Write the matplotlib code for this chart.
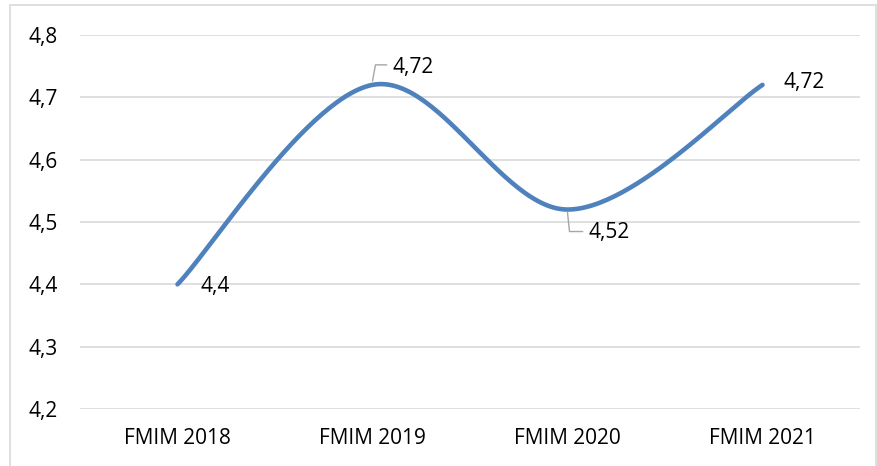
import matplotlib.pyplot as plt
import matplotlib.transforms as mtransforms
from matplotlib.patches import Rectangle
import numpy as np

plt.rcParams['font.family'] = ['Open Sans', 'DejaVu Sans']

categories = ['FMIM 2018', 'FMIM 2019', 'FMIM 2020', 'FMIM 2021']
values = [4.4, 4.72, 4.52, 4.72]
value_labels = ['4,4', '4,72', '4,52', '4,72']
yticks = [4.2, 4.3, 4.4, 4.5, 4.6, 4.7, 4.8]
ytick_labels = ['4,2', '4,3', '4,4', '4,5', '4,6', '4,7', '4,8']

line_color = '#4F81BD'
grid_color = '#D9D9D9'


def smooth(xs, ys, n=60):
    # excel style smoothing (catmull-rom as bezier segments)
    pts = np.column_stack([xs, ys]).astype(float)
    ext = np.vstack([pts[0], pts, pts[-1]])
    out = []
    t = np.linspace(0, 1, n)[:, None]
    for i in range(len(pts) - 1):
        p0, p1, p2, p3 = ext[i], ext[i + 1], ext[i + 2], ext[i + 3]
        c1 = p1 + (p2 - p0) / 6
        c2 = p2 - (p3 - p1) / 6
        seg = ((1 - t) ** 3) * p1 + 3 * ((1 - t) ** 2) * t * c1 \
            + 3 * (1 - t) * t ** 2 * c2 + t ** 3 * p2
        out.append(seg)
    out = np.vstack(out)
    return out[:, 0], out[:, 1]


fig = plt.figure(figsize=(8.78, 4.66), dpi=100)
fig.patches.append(Rectangle((10 / 878, -0.01), 866 / 878, 1 - 5 / 466 + 0.01,
                             transform=fig.transFigure, fill=False,
                             edgecolor=grid_color, linewidth=1.2))
ax = fig.add_axes([80 / 878, 1 - 409 / 466, 780 / 878, 374 / 466])

x = np.arange(len(categories))
sx, sy = smooth(x, values)
ax.plot(sx, sy, color=line_color, linewidth=3.3, solid_capstyle='round', zorder=3)

ax.set_xlim(-0.5, len(categories) - 0.5)
ax.set_ylim(4.2, 4.8)
ax.set_yticks(yticks)
ax.set_yticklabels(ytick_labels)
ax.set_xticks(x)
ax.set_xticklabels(categories)
ax.tick_params(length=0, labelsize=15, colors='black')
ax.tick_params(axis='y', pad=16)
ax.tick_params(axis='x', pad=14)
ax.grid(axis='y', color=grid_color, linewidth=1.2)
ax.set_axisbelow(True)
for s in ax.spines.values():
    s.set_visible(False)

# label offsets in pixels (dx, dy, leader path)
offsets = [
    (23, -2, None),
    (20, 17, [(0, 4), (3, 20), (14, 20)]),
    (21, -23, [(0, -3), (2, -22), (15, -22)]),
    (21, 2, None),
]
for xi, v, lab, (dx, dy, leader) in zip(x, values, value_labels, offsets):
    tr = ax.transData + mtransforms.ScaledTranslation(dx / 100, dy / 100, fig.dpi_scale_trans)
    ax.text(xi, v, lab, transform=tr, fontsize=15, ha='left', va='center')
    if leader:
        base = ax.transData.transform((xi, v))
        pts = np.array(leader, dtype=float)
        seg = base + pts
        ax.plot(seg[:, 0], seg[:, 1], transform=None, color='#A6A6A6',
                linewidth=1, zorder=4)

fig.savefig('out.png', dpi=100)
